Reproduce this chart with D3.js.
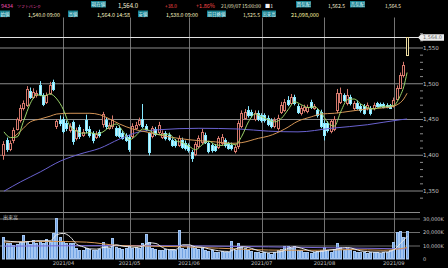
<!DOCTYPE html>
<html>
<head>
<meta charset="utf-8">
<script src="https://cdn.jsdelivr.net/npm/d3@7"></script>
<style>
body { margin: 0; background: #000; overflow: hidden; }
svg text { font-family: "Noto Sans CJK JP", "DejaVu Sans", sans-serif; }
</style>
</head>
<body>
<svg id="chart" width="448" height="268"></svg>
<script>
// daily candles, 2021/03 - 2021/09/07
var opens = [1399,1420,1408,1420,1436,1448,1465,1469,1489,1481,1483,1497,1483,1474,1486,1502,1440,1449,1450,1445,
  1434,1446,1424,1439,1428,1448,1436,1430,1425,1432,1443,1448,1438,1440,1437,1438,1430,1427,1425,1426,
  1438,1443,1450,1440,1430,1426,1436,1432,1425,1430,1428,1420,1419,1414,1421,1417,1413,1404,1401,1412,
  1418,1428,1416,1413,1412,1411,1416,1420,1415,1414,1405,1412,1440,1452,1462,1460,1450,1459,1455,1455,
  1452,1448,1440,1437,1460,1463,1476,1473,1481,1468,1458,1462,1461,1474,1466,1462,1460,1445,1444,1433,
  1436,1462,1474,1483,1472,1481,1465,1473,1468,1468,1465,1465,1465,1472,1471,1471,1470,1469,1468,1478,
  1494,1511,1540];
var highs = [1419,1424,1420,1438,1452,1470,1476,1496,1494,1493,1490,1503,1486,1487,1502,1505,1450,1455,1453,1448,
  1444,1448,1438,1442,1436,1456,1440,1433,1433,1435,1460,1452,1445,1455,1440,1441,1433,1430,1428,1444,
  1446,1452,1471,1443,1432,1440,1439,1446,1434,1433,1431,1423,1422,1427,1424,1420,1416,1407,1418,1427,
  1436,1431,1419,1416,1415,1426,1429,1423,1418,1417,1414,1448,1462,1464,1468,1463,1462,1462,1458,1458,
  1455,1451,1452,1456,1474,1478,1482,1485,1484,1471,1469,1470,1470,1477,1471,1465,1463,1448,1447,1450,
  1454,1492,1494,1486,1492,1484,1475,1476,1471,1471,1473,1468,1473,1474,1473,1473,1472,1471,1480,1497,
  1515,1530,1564];
var lows = [1393,1404,1405,1416,1434,1445,1462,1467,1478,1478,1480,1482,1468,1471,1484,1489,1436,1440,1430,1433,
  1431,1414,1420,1422,1425,1430,1424,1416,1422,1424,1438,1436,1435,1436,1425,1423,1421,1418,1404,1422,
  1435,1440,1437,1433,1399,1423,1426,1429,1422,1420,1419,1411,1410,1411,1408,1406,1403,1390,1398,1409,
  1415,1415,1402,1403,1404,1408,1413,1410,1407,1406,1402,1408,1437,1449,1452,1452,1447,1447,1445,1445,
  1440,1437,1437,1434,1457,1460,1468,1470,1469,1457,1455,1459,1458,1464,1463,1452,1437,1420,1431,1430,
  1433,1458,1471,1474,1469,1469,1462,1463,1459,1456,1462,1455,1462,1466,1466,1465,1465,1464,1466,1476,
  1492,1508,1538];
var closes = [1415,1408,1416,1434,1450,1466,1472,1492,1481,1488,1487,1485,1471,1483,1498,1492,1447,1445,1433,1437,
  1440,1419,1434,1426,1432,1434,1427,1421,1429,1427,1457,1440,1441,1448,1428,1426,1424,1421,1408,1440,
  1442,1448,1440,1436,1404,1437,1429,1442,1430,1423,1422,1414,1413,1423,1411,1409,1406,1395,1415,1424,
  1432,1418,1405,1406,1407,1423,1425,1413,1410,1409,1411,1444,1458,1460,1455,1455,1458,1450,1448,1448,
  1443,1440,1449,1452,1470,1474,1471,1481,1472,1460,1465,1467,1467,1467,1468,1455,1440,1428,1434,1447,
  1450,1486,1487,1477,1484,1472,1472,1466,1462,1459,1470,1458,1470,1468,1468,1467,1467,1466,1477,1494,
  1512,1525.5,1564];
var volumes = [16000,12000,11500,10500,11000,12500,17500,13000,11000,14000,11500,13500,12000,15000,12500,19000,30500,16500,13000,11500,
  11500,12000,8000,7000,6500,8500,7500,7000,6500,7500,12500,9500,8000,15500,9000,8000,7500,8500,10500,8500,
  9000,8000,12000,18500,12500,8000,7500,7000,6500,7500,7000,6500,7000,21500,8000,7500,9500,10000,8000,7500,
  8500,6500,6000,6500,5500,5000,6000,5500,5000,13000,7000,11500,9000,8000,6500,6000,5000,5500,4500,5000,
  4500,4000,5000,6500,7500,10000,9500,8500,9500,7000,6500,5500,5000,4500,5000,6000,6500,9000,6500,5500,
  7500,11500,9000,7000,8000,7000,6000,5500,5000,5500,4500,5000,5500,5000,4500,5000,5000,7000,12500,20000,
  20500,16500,21098];

// moving average lines (candle index, value)
var ma5Idx = d3.range(0, 119, 2).concat([119, 120, 121, 122]);
var ma5Val = [1432,1424,1425,1448,1472,1484,1482,1485,1478,1463,1440,1433,1430,1431,1429,1432,1439,1443,1433,1421,
  1427,1436,1434,1429,1428,1429,1420,1417,1412,1407,1414,1419,1414,1413,1416,1414,1426,1446,1457,1453,
  1449,1446,1451,1463,1474,1470,1466,1467,1459,1445,1440,1461,1477,1478,1471,1466,1464,1467,1468,1469,
  1474,1483,1495,1515];
var ma25Idx = [3,5,8,11,14,16,20,26,29,32,35,39,43,50,56,64,69,72,77,80,85,89,93,96,100,105,110,116,119,121,122];
var ma25Val = [1425,1433,1446,1450,1454,1457,1458,1458,1456,1450,1443,1436,1432,1425,1421,1418,1416,1417,1423,1426,1436,1447,1453,1457,1458,1461,1464,1466,1470,1478,1486];
var ma75Idx = [0,5,11,17,23,29,35,41,47,59,71,80,89,99,110,120,122];
var ma75Val = [1349,1362,1376,1391,1401,1409,1422,1432,1435,1437,1436,1433,1432,1437,1442,1449,1450];

var vma5Idx = [0,2,6,10,14,16,18,20,22,24,26,28,30,32,34,36,38,40,42,44,46,48,50,52,54,56,58,60,62,64,66,68,70,72,74,76,78,80,82,84,86,88,90,92,94,96,98,100,102,104,106,108,110,112,114,116,118,120,122];
var vma5Val = [13500,13000,12500,13500,13500,18000,19000,16500,11000,9000,7500,7300,8500,8800,10500,9500,9000,8600,9600,12000,11500,8500,7000,7000,10500,10500,9000,8700,7500,6500,5800,5600,7300,9000,8500,7000,5500,5000,5000,5500,8000,9000,8000,6500,5300,5500,6500,7000,8000,8500,7500,6000,5500,5100,5100,5300,6800,11500,16700];
var vma25Idx = [0,15,25,35,45,55,65,75,85,95,105,115,122];
var vma25Val = [12500,13000,12500,10000,9500,9000,8000,7000,6500,6500,7000,6500,8500];
var vma75Idx = [0,40,80,122];
var vma75Val = [9500,10000,9000,7500];

var priceTicks = [1350, 1400, 1450, 1500, 1550];
var volTicks = [0, 10000, 20000, 30000];
var monthIdx = [18, 38, 56, 78, 97, 118];
var monthLabels = ["2021/04", "2021/05", "2021/06", "2021/07", "2021/08", "2021/09"];
var lastPrice = 1564;

var svg = d3.select("#chart");
var n = closes.length;

var x = d3.scaleBand().domain(d3.range(n)).range([2, 409]).padding(0.18);
function cx(i) { return x(i) + x.bandwidth() / 2; }
function px(i) { return Math.round(cx(i) - 1.5); }
var y = d3.scaleLinear().domain([1350, 1550]).range([190.5, 47.5]);
var vy = d3.scaleLinear().domain([0, 30000]).range([259, 218.5]);

svg.append("rect").attr("width", 448).attr("height", 268).attr("fill", "#000");

// ---- header ----
// shrink a text until it fits its slot
function fit(t, w, fs) {
    var len = t.node().getComputedTextLength();
    if (len > w) t.attr("font-size", fs * w / len);
}
function label(x0, x1, yTop, txt) {
    svg.append("rect").attr("x", x0).attr("y", yTop).attr("width", x1 - x0).attr("height", 6.5)
        .attr("fill", "#177f8e");
    var t = svg.append("text").attr("x", (x0 + x1) / 2).attr("y", yTop + 5.2).attr("text-anchor", "middle")
        .attr("font-size", 5.2).attr("fill", "#e4fbff").text(txt);
    fit(t, x1 - x0 - 1, 5.2);
}
function value(x0, w, yBase, txt, color) {
    var t = svg.append("text").attr("x", x0).attr("y", yBase).attr("font-size", 6)
        .attr("fill", color).text(txt);
    fit(t, w, 6);
}
value(1, 12, 7.5, "9434", "#e04aa8");
value(17, 24, 7.5, "ソフトバンク", "#e04aa8");
label(91, 106, 1, "現在値");
value(118, 20, 7.5, "1,564.0", "#f8f2d8");
value(165, 12, 7.5, "+38.0", "#ff4a4a");
value(196, 19, 7.5, "+1.86%", "#ff4a4a");
value(221, 40, 7.5, "21/09/07 15:00:00", "#f0eccc");
value(265, 8, 7.5, "■1", "#f0f0f0");
label(296, 311, 1, "買気配");
value(328, 17, 7.5, "1,562.5", "#f8f2d8");
label(350, 365, 1, "売気配");
value(385, 16, 7.5, "1,564.5", "#f8f2d8");

label(0, 10, 10.5, "始値");
value(28, 32, 16.5, "1,540.0 09:00", "#f8f4c0");
label(68, 78, 10.5, "高値");
value(97, 33, 16.5, "1,564.0 14:58", "#f8f4c0");
label(138, 148, 10.5, "安値");
value(166, 32, 16.5, "1,538.0 09:00", "#f8f4c0");
label(207, 226, 10.5, "前日終値");
value(243, 17, 16.5, "1,525.5", "#f8f4c0");
label(262, 276, 10.5, "出来高");
value(291, 28, 16.5, "21,098,000", "#f8f4a0");

// ---- grid ----
svg.append("g").selectAll("line").data(monthIdx).join("line")
    .attr("x1", d => Math.round(cx(d)) + 0.5).attr("x2", d => Math.round(cx(d)) + 0.5)
    .attr("y1", 17.5).attr("y2", 259)
    .attr("stroke", "#747474").attr("stroke-width", 1);

var pAxis = svg.append("g").attr("transform", "translate(420,0)")
    .call(d3.axisRight(y).tickValues(priceTicks).tickSize(-420).tickPadding(3).tickFormat(d3.format(",")));
pAxis.select(".domain").remove();
pAxis.selectAll("line").attr("stroke", "#8a8a8a");
pAxis.selectAll("text").attr("fill", "#c8c8c8").attr("font-size", 5.5)
    .style("font-family", "'DejaVu Sans', sans-serif");

var mAxis = svg.append("g").attr("transform", "translate(420,0)")
    .call(d3.axisRight(y).tickValues(d3.range(1340, 1580, 10)).tickSize(3).tickFormat(""));
mAxis.select(".domain").remove();
mAxis.selectAll("line").attr("stroke", "#8a8a8a");

// volume panel
svg.append("line").attr("x1", 0).attr("x2", 420).attr("y1", 212.5).attr("y2", 212.5)
    .attr("stroke", "#8a8a8a");
var vAxis = svg.append("g").attr("transform", "translate(420,0)")
    .call(d3.axisRight(vy).tickValues(volTicks).tickSize(-420).tickPadding(3)
        .tickFormat(d => d === 0 ? "0" : d3.format(",")(d) + "K"));
vAxis.select(".domain").remove();
vAxis.selectAll("line").attr("stroke", (d) => d === 0 ? "none" : "#6e6e6e");
vAxis.selectAll("text").attr("fill", "#c8c8c8").attr("font-size", 5)
    .style("font-family", "'DejaVu Sans', sans-serif");
svg.append("text").attr("x", 3).attr("y", 219).attr("font-size", 5).attr("fill", "#cfcfcf").text("出来高");

svg.append("g").selectAll("text").data(monthIdx).join("text")
    .attr("x", d => cx(d)).attr("y", 265).attr("text-anchor", "middle")
    .attr("font-size", 5.2).attr("fill", "#c0c0c0")
    .style("font-family", "'DejaVu Sans', sans-serif")
    .text((d, k) => monthLabels[k]);

// ---- volume bars ----
svg.append("g").selectAll("rect").data(volumes).join("rect")
    .attr("x", (d, i) => px(i) + 0.5).attr("width", 2)
    .attr("y", d => Math.round(vy(d)) + 0.5).attr("height", d => 259 - Math.round(vy(d)) - 0.5)
    .attr("fill", "#72a3e2").attr("stroke", "#a4c6f2").attr("stroke-width", 1);

function drawLine(idx, vals, scale, color) {
    var pts = idx.map((d, k) => [cx(d), scale(vals[k])]);
    svg.append("path").datum(pts)
        .attr("d", d3.line().curve(d3.curveMonotoneX))
        .attr("fill", "none").attr("stroke", color).attr("stroke-width", 1);
}
drawLine(vma75Idx, vma75Val, vy, "#7a6ad8");
drawLine(vma25Idx, vma25Val, vy, "#d89a58");
drawLine(vma5Idx, vma5Val, vy, "#e8e8e8");

// ---- current price line ----
svg.append("line").attr("x1", 0).attr("x2", 420)
    .attr("y1", Math.round(y(lastPrice)) + 0.5).attr("y2", Math.round(y(lastPrice)) + 0.5)
    .attr("stroke", "#e4e4e4");
svg.append("path")
    .attr("d", "M418," + (y(lastPrice)) + "L421," + (y(lastPrice) - 3.2) + "H444V" + (y(lastPrice) + 3.2) + "H421Z")
    .attr("fill", "#ececec");
svg.append("text").attr("x", 432.5).attr("y", y(lastPrice) + 2).attr("text-anchor", "middle")
    .attr("font-size", 5).attr("fill", "#666")
    .style("font-family", "'DejaVu Sans', sans-serif")
    .text(d3.format(",.1f")(lastPrice));

// ---- candles ----
var cg = svg.append("g");
d3.range(n).forEach(function (i) {
    var o = opens[i], c = closes[i];
    var up = c >= o;
    var last = i === n - 1;
    var col = last ? "#ecdca0" : (up ? "#d4786c" : "#86e8ff");
    var wx = px(i) + 1.5;
    cg.append("line").attr("x1", wx).attr("x2", wx)
        .attr("y1", y(highs[i])).attr("y2", y(lows[i]))
        .attr("stroke", col).attr("stroke-width", 1);
    var top = Math.round(y(Math.max(o, c)));
    var bot = Math.round(y(Math.min(o, c)));
    cg.append("rect").attr("x", px(i) + 0.5).attr("y", top + 0.5)
        .attr("width", 2).attr("height", Math.max(1, bot - top))
        .attr("fill", up ? "#000" : "#c8f6ff").attr("stroke", col).attr("stroke-width", 1);
});

// ---- moving averages ----
drawLine(ma75Idx, ma75Val, y, "#6a62d0");
drawLine(ma25Idx, ma25Val, y, "#d49556");
drawLine(ma5Idx, ma5Val, y, "#9bd46a");
</script>
</body>
</html>
